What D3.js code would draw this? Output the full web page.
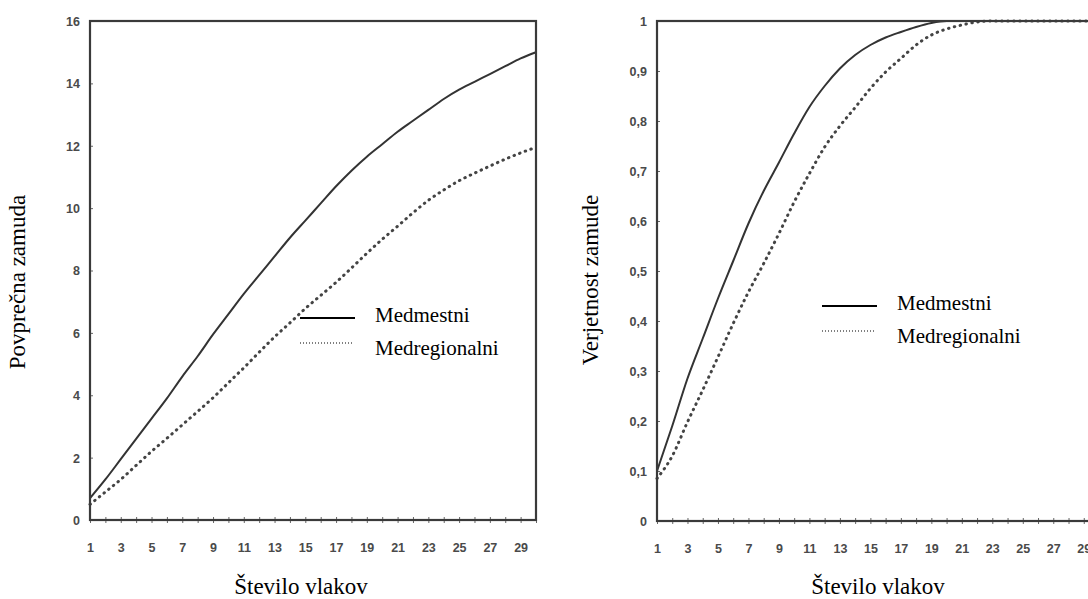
<!DOCTYPE html>
<html>
  <head>
    <meta charset="utf-8">
    <title>Zamude vlakov</title>
    <script type="text/javascript" src="https://d3js.org/d3.v7.min.js"></script>
    <style>
      body { margin: 0; background: #fff; }
      .tick text { font-family: "Liberation Sans", Arial, sans-serif; font-weight: bold; font-size: 12.5px; fill: #4a4a4a; }
      .title { font-family: "Liberation Serif", "Times New Roman", serif; font-size: 23px; fill: #000; }
      .legend text { font-family: "Liberation Serif", "Times New Roman", serif; font-size: 21px; fill: #000; }
    </style>
  </head>
  <body>
    <script type="text/javascript">

      // stevilo vlakov 1..30
      var trains = [1,2,3,4,5,6,7,8,9,10,11,12,13,14,15,16,17,18,19,20,21,22,23,24,25,26,27,28,29,30];
      var xTickLabels = [1,3,5,7,9,11,13,15,17,19,21,23,25,27,29];

      // povprecna zamuda
      var delayIntercity = [0.7,1.3,1.95,2.6,3.25,3.9,4.6,5.25,5.95,6.6,7.25,7.85,8.45,9.05,9.6,
                            10.15,10.7,11.2,11.65,12.05,12.45,12.8,13.15,13.5,13.8,14.05,14.3,14.55,14.8,15.0];
      var delayRegional = [0.5,0.9,1.3,1.75,2.2,2.62,3.05,3.48,3.92,4.4,4.88,5.38,5.87,6.32,6.78,
                           7.2,7.62,8.08,8.55,9.0,9.42,9.85,10.25,10.58,10.88,11.12,11.35,11.57,11.77,11.95];
      var delayTicks = [0,2,4,6,8,10,12,14,16];

      // verjetnost zamude
      var probIntercity = [0.10,0.19,0.285,0.365,0.445,0.52,0.595,0.66,0.717,0.775,0.828,0.87,0.905,0.932,0.952,
                           0.967,0.978,0.988,0.996,1,1,1,1,1,1,1,1,1,1,1];
      var probRegional = [0.085,0.13,0.198,0.262,0.328,0.395,0.458,0.515,0.575,0.638,0.695,0.748,0.79,0.827,0.865,
                          0.898,0.925,0.952,0.972,0.984,0.992,0.998,1,1,1,1,1,1,1,1];
      var probTicks = [0,0.1,0.2,0.3,0.4,0.5,0.6,0.7,0.8,0.9,1];

      var seriesNames = ["Medmestni", "Medregionalni"];
      var xTitle = "Število vlakov";

      var width = 1088;
      var height = 599;

      var svg = d3.select("body")
            .append("svg")
            .attr("width", width)
            .attr("height", height);

      function drawChart(opt) {
        var x = d3.scaleLinear().domain([1, 30]).range([opt.left, opt.right]);
        var y = d3.scaleLinear().domain(opt.domain).range([opt.bottom, opt.top]);
        var g = svg.append("g");

        // x axis: ticks at every train, labels only on odd
        var xAxis = d3.axisBottom(x)
              .tickValues(trains)
              .tickSize(3)
              .tickPadding(20)
              .tickFormat(function(d) { return xTickLabels.indexOf(d) >= 0 ? d : ""; });
        var gx = g.append("g")
          .attr("transform", "translate(0," + opt.bottom + ")")
          .call(xAxis);
        gx.select(".domain").remove();
        gx.selectAll(".tick line").attr("y1", -3).attr("stroke", "#666");

        var yAxis = d3.axisLeft(y)
              .tickValues(opt.ticks)
              .tickSize(-3)
              .tickPadding(10)
              .tickFormat(opt.format);
        var gy = g.append("g")
          .attr("transform", "translate(" + opt.left + ",0)")
          .call(yAxis);
        gy.select(".domain").remove();
        gy.selectAll(".tick line").attr("stroke", "#666");
        gy.selectAll(".tick text").attr("dy", "0.35em");

        var line = d3.line()
          .x(function(d, i) { return x(trains[i]); })
          .y(function(d) { return y(d); })
          .curve(d3.curveMonotoneX);

        g.append("path")
          .datum(opt.solid)
          .attr("fill", "none")
          .attr("stroke", "#333")
          .attr("stroke-width", 2)
          .attr("d", line);

        g.append("path")
          .datum(opt.dotted)
          .attr("fill", "none")
          .attr("stroke", "#444")
          .attr("stroke-width", 3)
          .attr("stroke-linecap", "round")
          .attr("stroke-dasharray", "0.5,5.5")
          .attr("d", line);

        // frame
        g.append("rect")
          .attr("x", opt.left)
          .attr("y", opt.top)
          .attr("width", opt.right - opt.left)
          .attr("height", opt.bottom - opt.top)
          .attr("fill", "none")
          .attr("stroke", "#3a3a3a")
          .attr("stroke-width", 2.2);

        g.append("text")
          .attr("class", "title")
          .attr("text-anchor", "middle")
          .attr("x", opt.titleX)
          .attr("y", 594)
          .text(xTitle);

        g.append("text")
          .attr("class", "title")
          .attr("text-anchor", "middle")
          .attr("transform", "translate(" + opt.yTitleX + "," + opt.yTitleY + ") rotate(-90)")
          .text(opt.yTitle);

        var legend = g.append("g").attr("class", "legend");
        legend.append("line")
          .attr("x1", opt.legX).attr("x2", opt.legX + 55)
          .attr("y1", opt.legY).attr("y2", opt.legY)
          .attr("stroke", "#000").attr("stroke-width", 2);
        legend.append("line")
          .attr("x1", opt.legX).attr("x2", opt.legX + 54)
          .attr("y1", opt.legY + 25).attr("y2", opt.legY + 25)
          .attr("stroke", "#000").attr("stroke-width", 1.2)
          .attr("stroke-dasharray", "1,2");
        legend.selectAll("text")
          .data(seriesNames)
          .enter()
          .append("text")
          .attr("x", opt.legX + 75)
          .attr("y", function(d, i) { return opt.legY + 4 + i * 33; })
          .text(function(d) { return d; });
      }

      drawChart({
        left: 90, right: 536, top: 21, bottom: 520,
        domain: [0, 16], ticks: delayTicks,
        format: d3.format("d"),
        solid: delayIntercity, dotted: delayRegional,
        yTitle: "Povprečna zamuda", yTitleX: 25, yTitleY: 282,
        titleX: 301, legX: 300, legY: 318
      });

      drawChart({
        left: 657, right: 1099, top: 21, bottom: 521,
        domain: [0, 1], ticks: probTicks,
        format: function(d) { return d === 0 || d === 1 ? d : String(d).replace(".", ","); },
        solid: probIntercity, dotted: probRegional,
        yTitle: "Verjetnost zamude", yTitleX: 598, yTitleY: 280,
        titleX: 878, legX: 822, legY: 306
      });

    </script>
  </body>
</html>
